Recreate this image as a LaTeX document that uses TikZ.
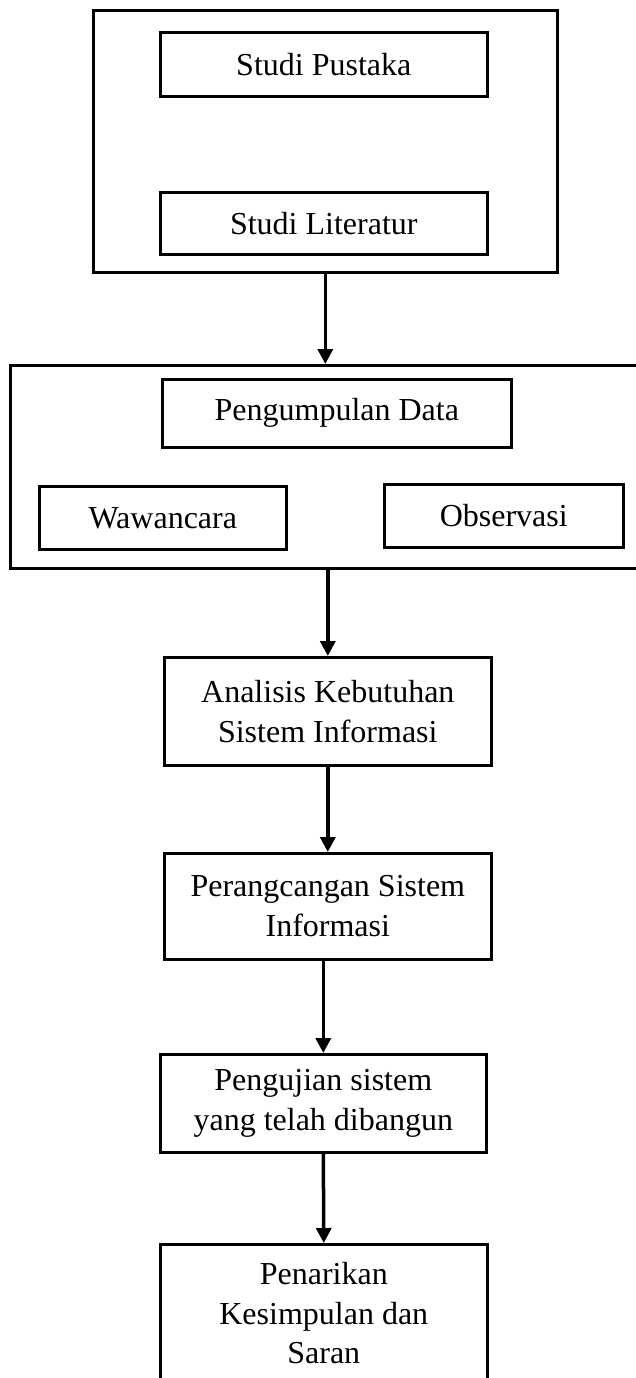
\documentclass[tikz,border=0pt]{standalone}
\usepackage{fontspec}
\setmainfont{Liberation Serif}
\usetikzlibrary{arrows.meta}
\begin{document}
\begin{tikzpicture}[x=1pt,y=-1pt,
  box/.style={draw, line width=2.6pt, inner sep=0pt, align=center, anchor=north west,
    font=\fontsize{32}{39.5}\selectfont},
  flow/.style={line width=3.5pt, -{Triangle[length=15pt,width=15pt]}}]
\useasboundingbox (0,0) rectangle (635,1378);
\node[box, minimum width=464, minimum height=262] (outer1) at (92,9) {};
\node[box, minimum width=327, minimum height=64] (sp) at (159,31) {Studi Pustaka};
\node[box, minimum width=327, minimum height=62] (sl) at (159,191) {Studi Literatur};
\node[box, minimum width=630, minimum height=203] (outer2) at (9,364) {};
\node[box, minimum width=349, minimum height=68] (pd) at (161,378) {Pengumpulan Data};
\node[box, minimum width=247, minimum height=63] (ww) at (38,485) {Wawancara};
\node[box, minimum width=239, minimum height=63] (ob) at (383,483) {Observasi};
\node[box, minimum width=327, minimum height=108] (an) at (163,656) {Analisis Kebutuhan\\Sistem Informasi};
\node[box, minimum width=327, minimum height=106] (pr) at (163,852) {Perangcangan Sistem\\Informasi};
\node[box, minimum width=326, minimum height=98] (pg) at (159,1053) {Pengujian sistem\\yang telah dibangun};
\node[box, minimum width=327, minimum height=138] (pn) at (159,1243) {Penarikan\\Kesimpulan dan\\Saran};
\draw[flow] (outer1.south) -- (outer1.south |- outer2.north);
\draw[flow] (an.north |- outer2.south) -- (an.north);
\draw[flow] (an.south) -- (pr.north);
\draw[flow] (pg.north |- pr.south) -- (pg.north);
\draw[flow] (pg.south) -- (pn.north);
\end{tikzpicture}
\end{document}
